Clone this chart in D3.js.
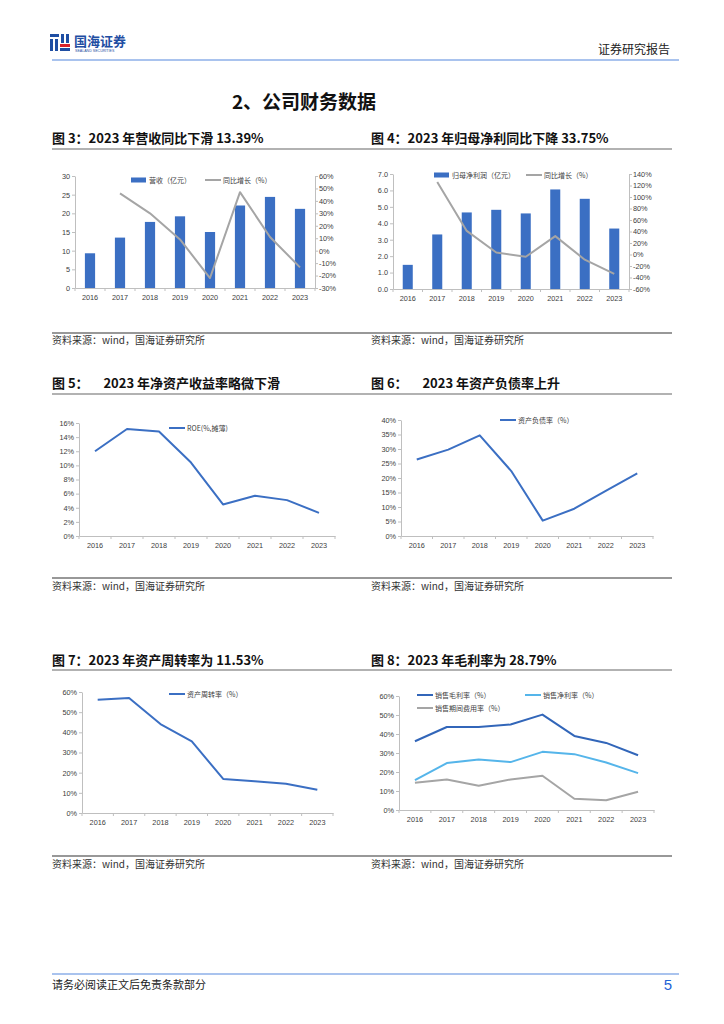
<!DOCTYPE html>
<html>
<head>
<meta charset="utf-8">
<script src="https://cdn.jsdelivr.net/npm/d3@7"></script>
<style>
body { margin: 0; background: #fff; }
text { font-family: "Liberation Sans", Arial, "Noto Sans CJK SC", sans-serif; }
.cjk { font-family: "Noto Sans CJK SC", sans-serif; }
</style>
</head>
<body>
<div id="page"></div>
<script>
// data
var years = ["2016", "2017", "2018", "2019", "2020", "2021", "2022", "2023"];

var revenue = [9.3, 13.5, 17.7, 19.2, 15.0, 22.1, 24.4, 21.2];
var revenueYoY = [null, 46, 30, 9, -22, 47, 11, -13.39];
var revenueTicks = [0, 5, 10, 15, 20, 25, 30];
var revenueYoYTicks = [-30, -20, -10, 0, 10, 20, 30, 40, 50, 60];

var netProfit = [1.47, 3.32, 4.66, 4.82, 4.60, 6.06, 5.49, 3.68];
var netProfitYoY = [null, 126, 41, 3.4, -4, 32, -9, -33.75];
var profitTicks = [0, 1, 2, 3, 4, 5, 6, 7];
var profitYoYTicks = [-60, -40, -20, 0, 20, 40, 60, 80, 100, 120, 140];

var roe = [12.0, 15.15, 14.8, 10.4, 4.47, 5.7, 5.08, 3.28];
var roeTicks = [0, 2, 4, 6, 8, 10, 12, 14, 16];

var debtRatio = [26.4, 29.8, 34.7, 22.4, 5.3, 9.4, 15.6, 21.6];
var debtTicks = [0, 5, 10, 15, 20, 25, 30, 35, 40];

var assetTurnover = [56.2, 57.0, 44.1, 35.5, 16.9, 15.7, 14.5, 11.53];
var turnoverTicks = [0, 10, 20, 30, 40, 50, 60];

var grossMargin = [36.2, 43.7, 43.7, 45.0, 50.2, 39.0, 35.3, 28.79];
var netMargin = [15.7, 24.7, 26.6, 25.2, 30.6, 29.4, 25.0, 19.4];
var expenseRatio = [14.3, 16.1, 12.8, 16.1, 18.0, 5.9, 5.1, 9.6];
var marginTicks = [0, 10, 20, 30, 40, 50, 60];

var BLUE = "#3b6fc3";
var DARKBLUE = "#3266b9";
var LIGHTBLUE = "#55b5ea";
var GRAY = "#a5a5a5";
var AXIS = "#bfbfbf";
var LABEL = "#404040";

var svg = d3.select("#page").append("svg")
	.attr("width", 724)
	.attr("height", 1024);

// header logo
var logo = svg.append("g");
logo.append("rect").attr("x", 50).attr("y", 34).attr("width", 9).attr("height", 3).attr("fill", "#1f4ea3");
logo.append("rect").attr("x", 50).attr("y", 39).attr("width", 3).attr("height", 12).attr("fill", "#1f4ea3");
logo.append("rect").attr("x", 55).attr("y", 39).attr("width", 3).attr("height", 12).attr("fill", "#1f4ea3");
logo.append("rect").attr("x", 61).attr("y", 34).attr("width", 3).attr("height", 9).attr("fill", "#1f4ea3");
logo.append("rect").attr("x", 66).attr("y", 34).attr("width", 3).attr("height", 9).attr("fill", "#1f4ea3");
logo.append("rect").attr("x", 60).attr("y", 44).attr("width", 10).attr("height", 3).attr("fill", "#d9232b");
logo.append("rect").attr("x", 60).attr("y", 48).attr("width", 10).attr("height", 3).attr("fill", "#1f4ea3");
logo.append("text").attr("class", "cjk")
	.attr("x", 74).attr("y", 46)
	.style("font-size", "13px").style("font-weight", "bold")
	.attr("fill", "#1f4ea3")
	.text("国海证券");
logo.append("text")
	.attr("x", 75).attr("y", 51.5)
	.style("font-size", "3.6px")
	.attr("fill", "#1f4ea3")
	.text("SEALAND SECURITIES");

svg.append("text").attr("class", "cjk")
	.attr("x", 670).attr("y", 54)
	.attr("text-anchor", "end")
	.style("font-size", "12px")
	.attr("fill", "#222")
	.text("证券研究报告");

svg.append("line")
	.attr("x1", 52).attr("x2", 679).attr("y1", 60).attr("y2", 60)
	.attr("stroke", "#a9c3ee").attr("stroke-width", 2);

// section heading
svg.append("text").attr("class", "cjk")
	.attr("x", 304).attr("y", 109)
	.attr("text-anchor", "middle")
	.style("font-size", "19px").style("font-weight", "bold")
	.attr("fill", "#111")
	.text("2、公司财务数据");

// figure titles and sources
function figureRow(titles, titleY, lineY, bottomLineY, sourceY) {
	titles.forEach(function(t, i) {
		svg.append("text").attr("class", "cjk")
			.attr("x", i == 0 ? 52 : 371).attr("y", titleY)
			.style("font-size", "13px").style("font-weight", "bold")
			.attr("fill", "#111")
			.attr("xml:space", "preserve")
			.style("white-space", "pre")
			.text(t);
		svg.append("text").attr("class", "cjk")
			.attr("x", i == 0 ? 52 : 371).attr("y", sourceY)
			.style("font-size", "10px")
			.attr("fill", "#333")
			.text("资料来源：wind，国海证券研究所");
	});
	svg.append("line")
		.attr("x1", 52).attr("x2", 672).attr("y1", lineY).attr("y2", lineY)
		.attr("stroke", "#666").attr("stroke-width", 1.2);
	svg.append("line")
		.attr("x1", 52).attr("x2", 672).attr("y1", bottomLineY).attr("y2", bottomLineY)
		.attr("stroke", "#333").attr("stroke-width", 1.2);
}

figureRow(["图 3：2023 年营收同比下滑 13.39%", "图 4：2023 年归母净利同比下降 33.75%"], 143, 149, 333, 344);
figureRow(["图 5：     2023 年净资产收益率略微下滑", "图 6：     2023 年资产负债率上升"], 388, 394, 578, 590);
figureRow(["图 7：2023 年资产周转率为 11.53%", "图 8：2023 年毛利率为 28.79%"], 665, 670, 856, 868);

// footer
svg.append("line")
	.attr("x1", 52).attr("x2", 679).attr("y1", 974).attr("y2", 974)
	.attr("stroke", "#a9c3ee").attr("stroke-width", 2);
svg.append("text").attr("class", "cjk")
	.attr("x", 52).attr("y", 989)
	.style("font-size", "11px")
	.attr("fill", "#222")
	.text("请务必阅读正文后免责条款部分");
svg.append("text")
	.attr("x", 672).attr("y", 990)
	.attr("text-anchor", "end")
	.style("font-size", "15px")
	.attr("fill", "#1f63d6")
	.text("5");

// chart helpers
function styleAxis(sel) {
	sel.selectAll("path, line").attr("stroke", AXIS);
	sel.selectAll("text")
		.attr("fill", LABEL)
		.style("font-size", "7.3px")
		.style("font-family", "'Liberation Sans', Arial, sans-serif");
}

function xAxis(box) {
	var x = d3.scaleBand().domain(years).range([box.left, box.right]);

	var ax = svg.append("g")
		.attr("transform", "translate(0, " + box.bottom + ")")
		.call(d3.axisBottom(x).tickSize(0).tickPadding(7).tickSizeOuter(0));
	styleAxis(ax);

	// ticks sit between the categories
	var bounds = years.map((d) => x(d)).concat([box.right]);
	ax.selectAll(".bound").data(bounds).enter().append("line")
		.attr("x1", (d) => d).attr("x2", (d) => d)
		.attr("y1", 0).attr("y2", 3)
		.attr("stroke", AXIS);
	return x;
}

function yAxis(box, ticks, fmt, side) {
	var y = d3.scaleLinear()
		.domain([ticks[0], ticks[ticks.length - 1]])
		.range([box.bottom, box.top]);
	var axis = side == "right" ? d3.axisRight(y) : d3.axisLeft(y);
	axis.tickValues(ticks).tickFormat(fmt).tickSize(3).tickSizeOuter(0).tickPadding(side == "right" ? 1 : 2);
	var ax = svg.append("g")
		.attr("transform", "translate(" + (side == "right" ? box.right : box.left) + ", 0)")
		.call(axis);
	styleAxis(ax);
	return y;
}

function drawLine(x, y, values, color, width) {
	var pts = years.map((d, i) => ({ year: d, v: values[i] })).filter((p) => p.v != null);
	var line = d3.line()
		.x((p) => x(p.year) + x.bandwidth() / 2)
		.y((p) => y(p.v));
	svg.append("path")
		.datum(pts)
		.attr("d", line)
		.attr("fill", "none")
		.attr("stroke", color)
		.attr("stroke-width", width)
		.attr("stroke-linejoin", "round");
}

function drawBars(x, y, values) {
	var bw = x.bandwidth() * 0.34;
	svg.append("g").selectAll("rect")
		.data(values)
		.enter().append("rect")
		.attr("x", (d, i) => x(years[i]) + (x.bandwidth() - bw) / 2)
		.attr("y", (d) => y(d))
		.attr("width", bw)
		.attr("height", (d) => y(0) - y(d))
		.attr("fill", BLUE);
}

function legendItem(px, py, type, color, label) {
	var g = svg.append("g");
	if (type == "rect") {
		g.append("rect")
			.attr("x", px).attr("y", py - 2.5)
			.attr("width", 15).attr("height", 5)
			.attr("fill", color);
	} else {
		g.append("line")
			.attr("x1", px).attr("x2", px + 16)
			.attr("y1", py).attr("y2", py)
			.attr("stroke", color).attr("stroke-width", 2);
	}
	g.append("text").attr("class", "cjk")
		.attr("x", px + 18).attr("y", py + 2.5)
		.style("font-size", "7px")
		.attr("fill", LABEL)
		.text(label);
}

var pct = (d) => d + "%";

// Figure 3: revenue
var box3 = { left: 75, right: 315, top: 176, bottom: 288 };
var x3 = xAxis(box3);
var y3 = yAxis(box3, revenueTicks, (d) => d, "left");
var y3r = yAxis(box3, revenueYoYTicks, pct, "right");
drawBars(x3, y3, revenue);
drawLine(x3, y3r, revenueYoY, GRAY, 2);
legendItem(131, 180, "rect", BLUE, "营收（亿元）");
legendItem(205, 180, "line", GRAY, "同比增长（%）");

// Figure 4: net profit
var box4 = { left: 393, right: 629, top: 174, bottom: 289 };
var x4 = xAxis(box4);
var y4 = yAxis(box4, profitTicks, d3.format(".1f"), "left");
var y4r = yAxis(box4, profitYoYTicks, pct, "right");
drawBars(x4, y4, netProfit);
drawLine(x4, y4r, netProfitYoY, GRAY, 2);
legendItem(434, 175, "rect", BLUE, "归母净利润（亿元）");
legendItem(526, 175, "line", GRAY, "同比增长（%）");

// Figure 5: ROE
var box5 = { left: 79, right: 335, top: 423, bottom: 536 };
var x5 = xAxis(box5);
var y5 = yAxis(box5, roeTicks, pct, "left");
drawLine(x5, y5, roe, BLUE, 2);
legendItem(169, 428, "line", BLUE, "ROE(%,摊薄)");

// Figure 6: debt ratio
var box6 = { left: 401, right: 653, top: 420, bottom: 536 };
var x6 = xAxis(box6);
var y6 = yAxis(box6, debtTicks, pct, "left");
drawLine(x6, y6, debtRatio, BLUE, 2);
legendItem(500, 420, "line", BLUE, "资产负债率（%）");

// Figure 7: asset turnover
var box7 = { left: 82, right: 333, top: 692, bottom: 813 };
var x7 = xAxis(box7);
var y7 = yAxis(box7, turnoverTicks, pct, "left");
drawLine(x7, y7, assetTurnover, BLUE, 2);
legendItem(169, 694, "line", BLUE, "资产周转率（%）");

// Figure 8: margins
var box8 = { left: 399, right: 654, top: 696, bottom: 810 };
var x8 = xAxis(box8);
var y8 = yAxis(box8, marginTicks, pct, "left");
drawLine(x8, y8, grossMargin, DARKBLUE, 2);
drawLine(x8, y8, netMargin, LIGHTBLUE, 2);
drawLine(x8, y8, expenseRatio, GRAY, 2);
legendItem(417, 695, "line", DARKBLUE, "销售毛利率（%）");
legendItem(525, 695, "line", LIGHTBLUE, "销售净利率（%）");
legendItem(417, 708, "line", GRAY, "销售期间费用率（%）");
</script>
</body>
</html>
